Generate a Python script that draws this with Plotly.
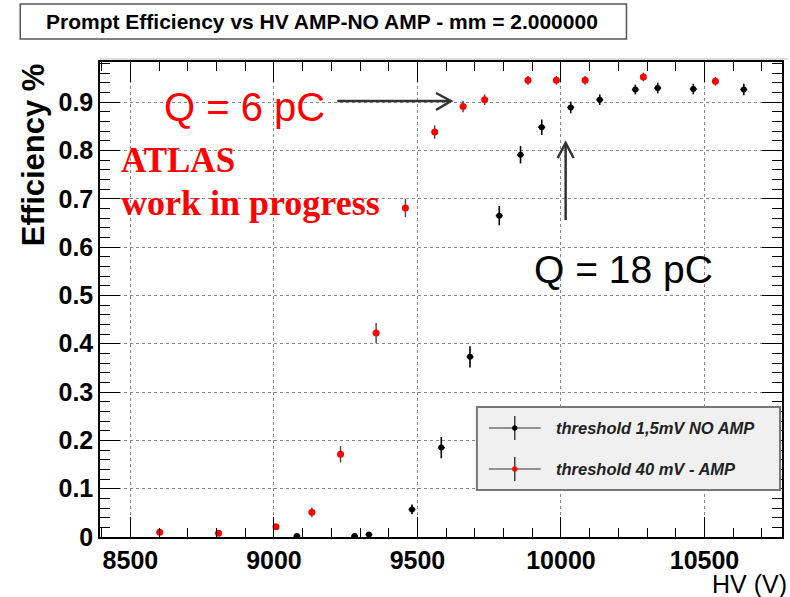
import plotly.graph_objects as go

# Prompt efficiency vs HV, with and without amplifier
hv_noamp = [9080, 9281, 9331, 9481, 9583, 9683, 9785, 9859, 9933, 10034,
            10135, 10259, 10337, 10461, 10637]
eff_noamp = [0.002, 0.002, 0.005, 0.057, 0.185, 0.373, 0.665, 0.791, 0.848, 0.889,
             0.905, 0.926, 0.929, 0.927, 0.926]
err_noamp = [0.002, 0.003, 0.004, 0.010, 0.022, 0.022, 0.020, 0.018, 0.016, 0.012,
             0.011, 0.010, 0.011, 0.011, 0.012]

hv_amp = [8602, 8807, 9007, 9132, 9232, 9356, 9458, 9560, 9659, 9734,
          9885, 9984, 10084, 10287, 10538]
eff_amp = [0.010, 0.008, 0.021, 0.051, 0.171, 0.422, 0.681, 0.838, 0.891, 0.905,
           0.945, 0.945, 0.945, 0.952, 0.943]
err_amp = [0.004, 0.004, 0.006, 0.010, 0.017, 0.021, 0.019, 0.014, 0.012, 0.011,
           0.009, 0.009, 0.009, 0.009, 0.009]

names = ["threshold 1,5mV NO AMP", "threshold 40 mV - AMP"]
title = "Prompt Efficiency vs HV AMP-NO AMP - mm = 2.000000"

W, H = 790, 597
L, R, T, B = 100, 6, 62, 60
PW, PH = W - L - R, H - T - B


def px(x):
    return (x - L) / PW


def py(y):
    return (H - B - y) / PH


fig = go.Figure()
fig.add_trace(go.Scatter(
    x=hv_noamp, y=eff_noamp, mode="markers", name=names[0],
    marker=dict(color="black", size=6),
    error_y=dict(type="data", array=err_noamp, color="black", thickness=1.6, width=0),
    error_x=dict(type="constant", value=12, color="black", thickness=1.6, width=0),
    showlegend=False))
fig.add_trace(go.Scatter(
    x=hv_amp, y=eff_amp, mode="markers", name=names[1],
    marker=dict(color="#ff0000", size=7),
    error_y=dict(type="data", array=err_amp, color="#444", thickness=1.4, width=0),
    showlegend=False))

shapes = []
ann = []

# title box
shapes.append(dict(type="rect", xref="paper", yref="paper",
                   x0=px(20), x1=px(628), y0=py(39), y1=py(4),
                   line=dict(color="#555", width=1.5), fillcolor="white", layer="above"))
ann.append(dict(text=f"<b>{title}</b>", xref="paper", yref="paper", x=px(323), y=py(22),
                showarrow=False, font=dict(family="Liberation Sans", size=21, color="black"),
                xanchor="center", yanchor="middle"))
shapes.append(dict(type="line", xref="paper", yref="paper", x0=px(100), x1=px(790),
                   y0=py(59), y1=py(59), line=dict(color="#bbb", width=1)))

# axis titles
ann.append(dict(text="<b>Efficiency %</b>", xref="paper", yref="paper", x=px(33), y=py(155),
                showarrow=False, textangle=-90,
                font=dict(family="Liberation Sans", size=31, color="black"),
                xanchor="center", yanchor="middle"))
ann.append(dict(text="HV (V)", xref="paper", yref="paper", x=px(791), y=py(584),
                showarrow=False, font=dict(family="Liberation Sans", size=25, color="black"),
                xanchor="right", yanchor="middle"))

# charge annotations
ann.append(dict(text="Q = 6 pC", xref="paper", yref="paper", x=px(245), y=py(107),
                showarrow=False, font=dict(family="Liberation Sans", size=40, color="#ff0000"),
                xanchor="center", yanchor="middle"))
ann.append(dict(text="Q = 18 pC", xref="paper", yref="paper", x=px(625), y=py(269),
                showarrow=False, font=dict(family="Liberation Sans", size=39, color="black"),
                xanchor="center", yanchor="middle"))
ann.append(dict(text="<b>ATLAS</b>", xref="paper", yref="paper", x=px(119), y=py(160),
                showarrow=False, font=dict(family="Liberation Serif", size=35, color="#ff0000"),
                xanchor="left", yanchor="middle"))
ann.append(dict(text="<b>work in progress</b>", xref="paper", yref="paper", x=px(119), y=py(203),
                showarrow=False, font=dict(family="Liberation Serif", size=36, color="#ff0000"),
                xanchor="left", yanchor="middle"))

arrow_line = dict(color="#333", width=2.5)
# horizontal arrow
shapes.append(dict(type="line", xref="paper", yref="paper", x0=px(338), x1=px(451),
                   y0=py(101), y1=py(101), line=arrow_line))
shapes.append(dict(type="path", xref="paper", yref="paper",
                   path=f"M {px(437)},{py(93)} L {px(452)},{py(101)} L {px(437)},{py(110)}",
                   line=arrow_line))
# vertical arrow
shapes.append(dict(type="line", xref="paper", yref="paper", x0=px(567), x1=px(567),
                   y0=py(220), y1=py(144), line=arrow_line))
shapes.append(dict(type="path", xref="paper", yref="paper",
                   path=f"M {px(559)},{py(158)} L {px(567)},{py(143)} L {px(575)},{py(158)}",
                   line=arrow_line))

# legend box
shapes.append(dict(type="rect", xref="paper", yref="paper",
                   x0=px(478), x1=px(782), y0=py(490), y1=py(407),
                   line=dict(color="#777", width=2), fillcolor="#f0f0f0", layer="above"))
for ly, mcol, label in [(428, "black", names[0]), (469, "#ff0000", names[1])]:
    shapes.append(dict(type="line", xref="paper", yref="paper", x0=px(490), x1=px(542),
                       y0=py(ly), y1=py(ly), line=dict(color="#333", width=1.2), layer="above"))
    shapes.append(dict(type="line", xref="paper", yref="paper", x0=px(516), x1=px(516),
                       y0=py(ly - 12), y1=py(ly + 12), line=dict(color="#333", width=1.4),
                       layer="above"))
    shapes.append(dict(type="circle", xref="paper", yref="paper", x0=px(513.5), x1=px(518.5),
                       y0=py(ly + 2.5), y1=py(ly - 2.5), line=dict(color=mcol, width=0.5),
                       fillcolor=mcol, layer="above"))
    ann.append(dict(text=f"<b><i>{label}</i></b>", xref="paper", yref="paper", x=px(555), y=py(ly),
                    showarrow=False, font=dict(family="Liberation Sans", size=16.5, color="#222"),
                    xanchor="left", yanchor="middle"))

axis_common = dict(
    showline=True, linecolor="black", linewidth=1.5, mirror="ticks",
    ticks="inside", tickcolor="black", tickwidth=1.2,
    showgrid=True, gridcolor="#888", griddash="dot", gridwidth=1,
    zeroline=False,
    tickfont=dict(family="Liberation Sans", size=25, color="black"),
)

fig.update_layout(
    width=W, height=H,
    margin=dict(l=L, r=R, t=T, b=B),
    paper_bgcolor="white", plot_bgcolor="white",
    xaxis=dict(range=[8394, 10770], tickvals=[8500, 9000, 9500, 10000, 10500],
               ticktext=["<b>8500</b>", "<b>9000</b>", "<b>9500</b>", "<b>10000</b>", "<b>10500</b>"],
               ticklen=20,
               minor=dict(dtick=100, tick0=8500, ticklen=9, ticks="inside", tickcolor="black",
                          showgrid=False),
               **axis_common),
    yaxis=dict(range=[0, 0.983], tickvals=[0, 0.1, 0.2, 0.3, 0.4, 0.5, 0.6, 0.7, 0.8, 0.9],
               ticktext=["<b>0</b>", "<b>0.1</b>", "<b>0.2</b>", "<b>0.3</b>", "<b>0.4</b>",
                         "<b>0.5</b>", "<b>0.6</b>", "<b>0.7</b>", "<b>0.8</b>", "<b>0.9</b>"],
               ticklen=20,
               minor=dict(dtick=0.02, tick0=0, ticklen=10, ticks="inside", tickcolor="black",
                          showgrid=False),
               **axis_common),
    shapes=shapes,
    annotations=ann,
    showlegend=False,
)

fig.write_html("out.html")
